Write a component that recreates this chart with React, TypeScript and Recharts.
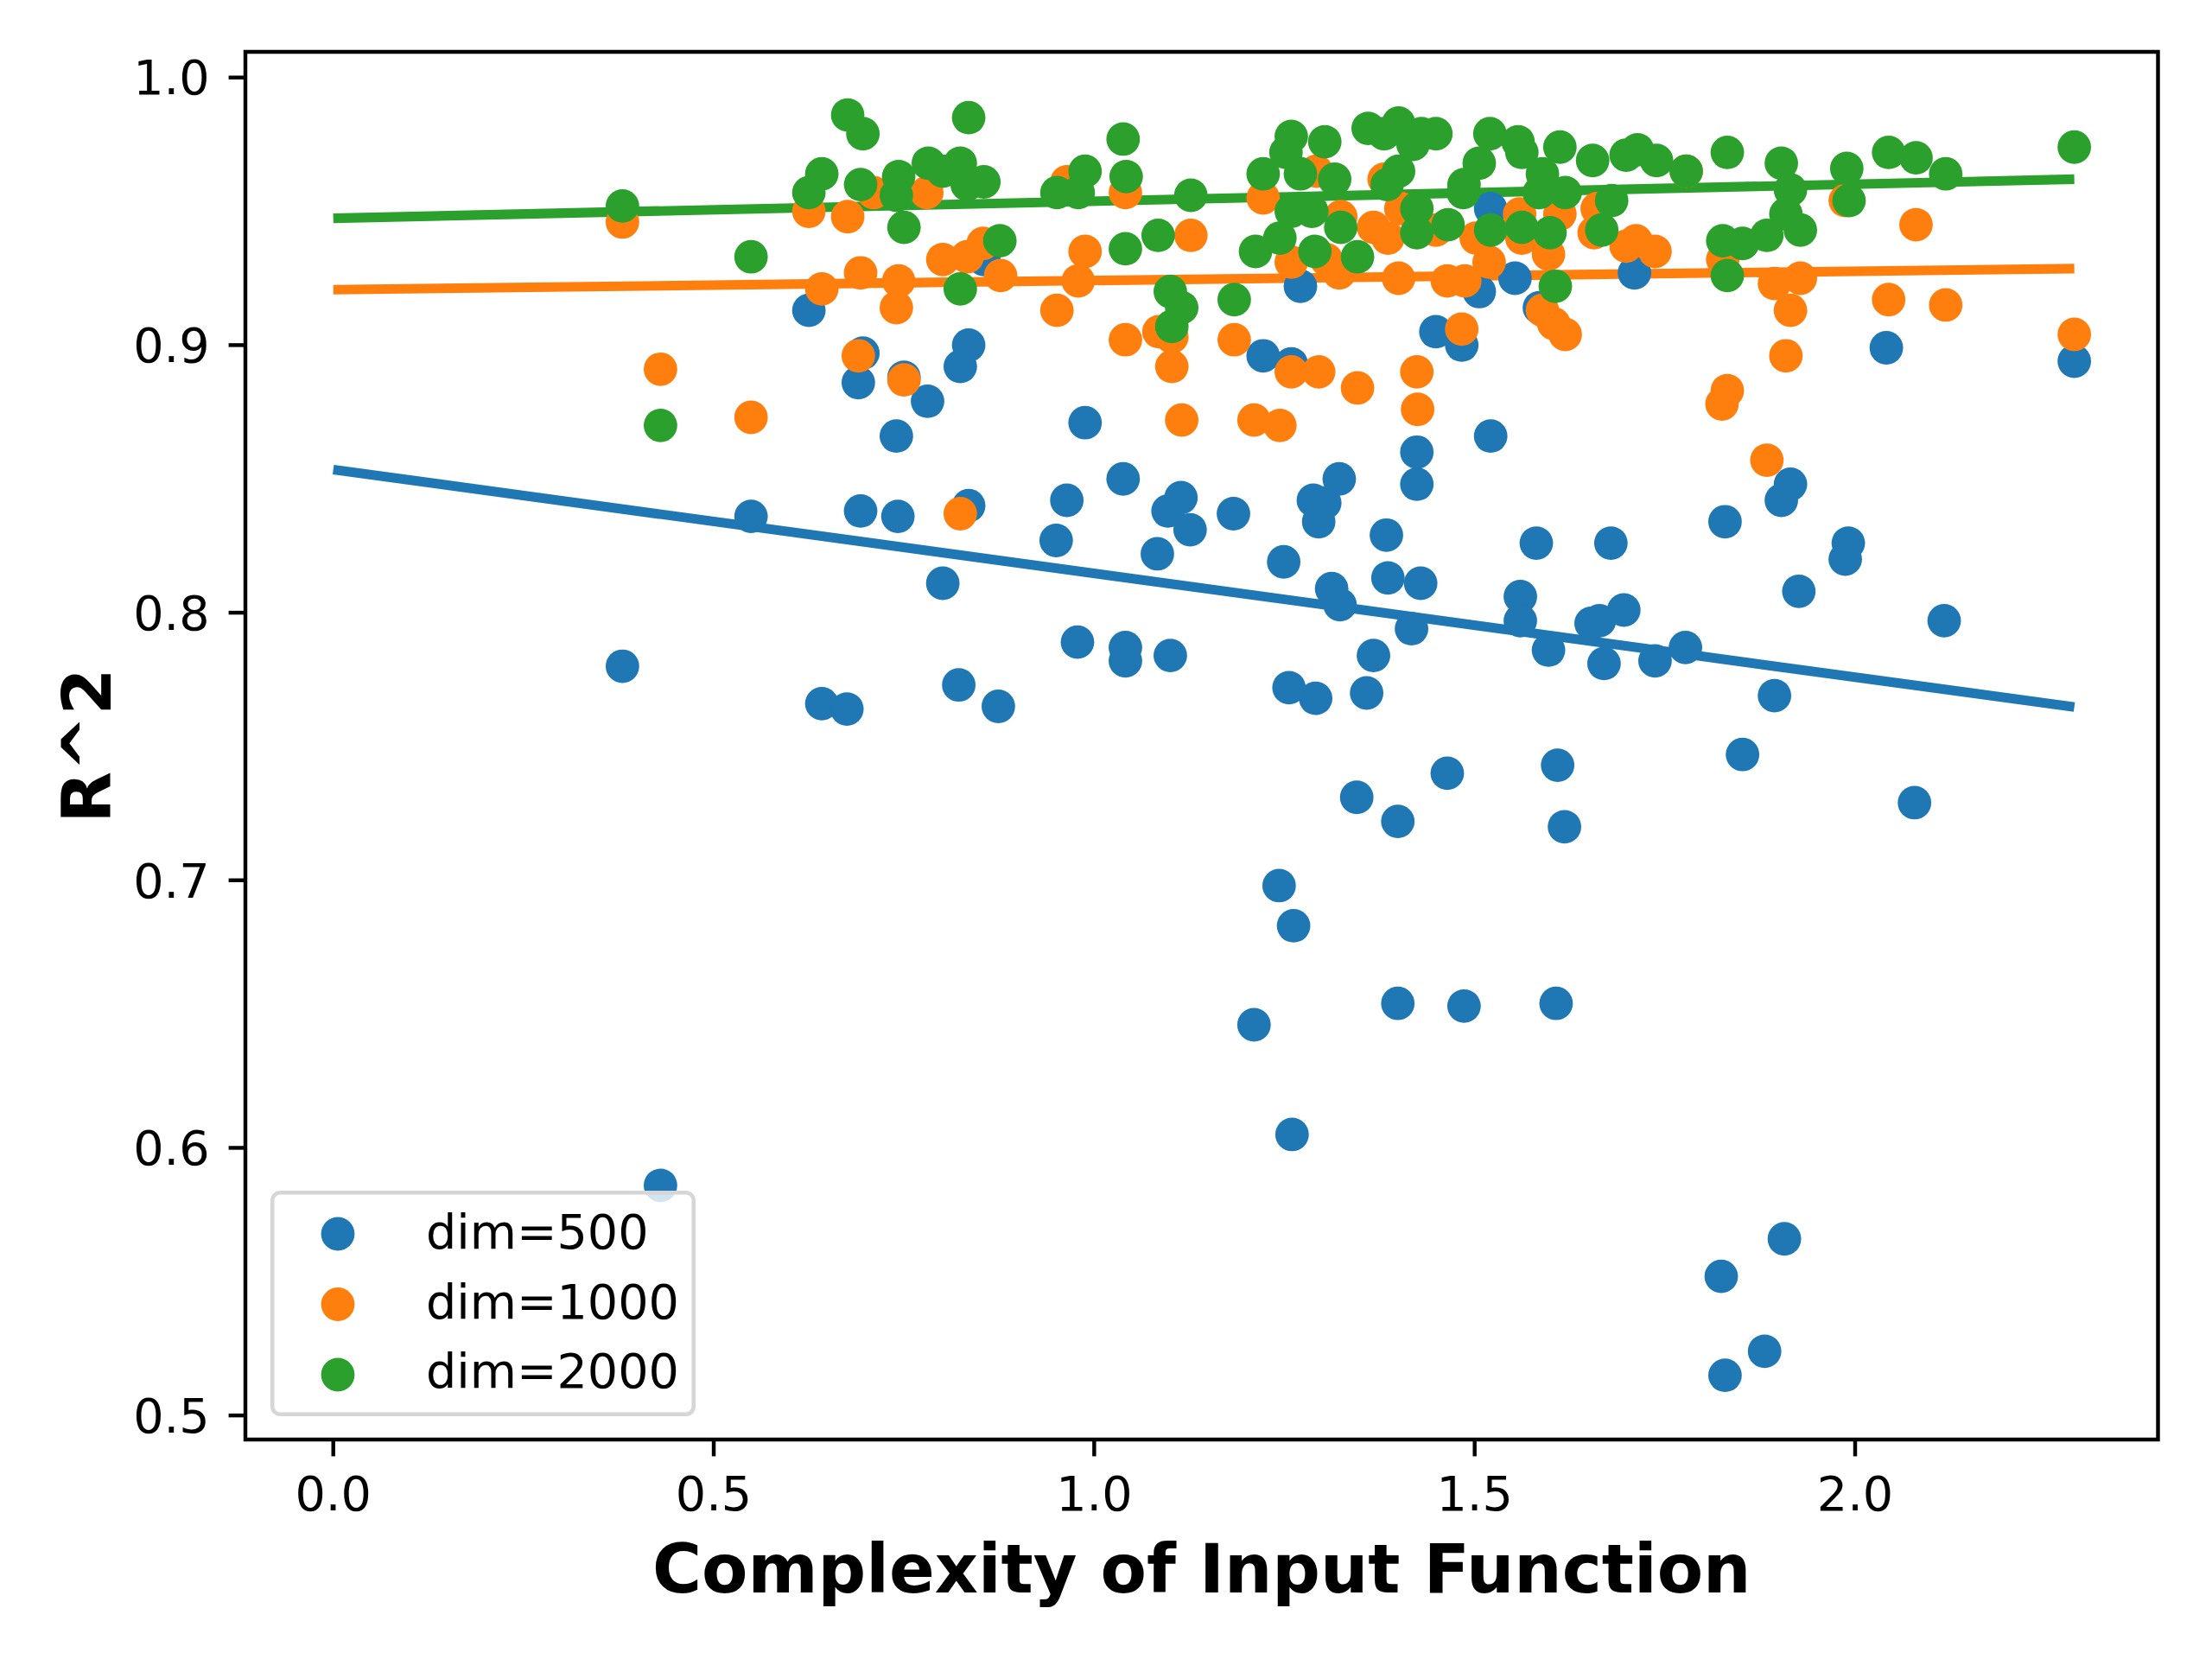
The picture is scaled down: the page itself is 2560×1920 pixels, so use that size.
import { ComposedChart, Scatter, Line, XAxis, YAxis, Legend, ReferenceArea, Label } from 'recharts';

type Pt = [number, number];

// complexity, R^2
const dim500: Pt[] = [
  [0.380, 0.780], [0.430, 0.586], [0.549, 0.836], [0.625, 0.913], [0.642, 0.766], [0.675, 0.764],
  [0.693, 0.838], [0.696, 0.897], [0.690, 0.886], [0.742, 0.836], [0.740, 0.866], [0.750, 0.888],
  [0.781, 0.879], [0.801, 0.811], [0.822, 0.773], [0.824, 0.892], [0.835, 0.900], [0.835, 0.840],
  [0.855, 0.932], [0.874, 0.765], [0.950, 0.827], [0.964, 0.842], [0.978, 0.789], [0.988, 0.871],
  [1.038, 0.850], [1.041, 0.787], [1.041, 0.782], [1.083, 0.822], [1.100, 0.784], [1.097, 0.838],
  [1.114, 0.843], [1.126, 0.831], [1.183, 0.837], [1.222, 0.896], [1.249, 0.819], [1.256, 0.772],
  [1.259, 0.893], [1.271, 0.922], [1.291, 0.768], [1.288, 0.842], [1.303, 0.841], [1.295, 0.834],
  [1.312, 0.809], [1.323, 0.803], [1.322, 0.850], [1.345, 0.731], [1.358, 0.770], [1.367, 0.784],
  [1.384, 0.829], [1.386, 0.813], [1.399, 0.722], [1.417, 0.794], [1.429, 0.811], [1.424, 0.860],
  [1.424, 0.848], [1.449, 0.905], [1.464, 0.740], [1.483, 0.900], [1.506, 0.920], [1.521, 0.951],
  [1.521, 0.866], [1.553, 0.925], [1.243, 0.698], [1.262, 0.683], [1.210, 0.646], [1.260, 0.605],
  [1.399, 0.654], [1.486, 0.653], [1.560, 0.806], [1.560, 0.797], [1.581, 0.826], [1.585, 0.914],
  [1.597, 0.786], [1.609, 0.743], [1.618, 0.720], [1.607, 0.654], [1.653, 0.796], [1.664, 0.797],
  [1.670, 0.781], [1.679, 0.826], [1.696, 0.801], [1.710, 0.927], [1.737, 0.782], [1.777, 0.787],
  [1.824, 0.552], [1.829, 0.515], [1.829, 0.834], [1.852, 0.747], [1.881, 0.524], [1.894, 0.769],
  [1.903, 0.842], [1.915, 0.848], [1.907, 0.566], [1.926, 0.808], [1.987, 0.820], [1.991, 0.826],
  [2.041, 0.899], [2.078, 0.729], [2.117, 0.797], [2.288, 0.894],
];

const dim1000: Pt[] = [
  [0.380, 0.946], [0.430, 0.891], [0.549, 0.873], [0.625, 0.950], [0.642, 0.921], [0.676, 0.948],
  [0.690, 0.896], [0.693, 0.927], [0.710, 0.957], [0.740, 0.914], [0.743, 0.924], [0.750, 0.887],
  [0.780, 0.957], [0.801, 0.932], [0.824, 0.837], [0.833, 0.933], [0.854, 0.938], [0.877, 0.926],
  [0.951, 0.913], [0.964, 0.961], [0.979, 0.924], [0.988, 0.935], [1.041, 0.957], [1.041, 0.902],
  [1.085, 0.905], [1.102, 0.903], [1.102, 0.892], [1.115, 0.872], [1.127, 0.941], [1.184, 0.902],
  [1.210, 0.872], [1.222, 0.955], [1.244, 0.870], [1.259, 0.931], [1.259, 0.890], [1.292, 0.965],
  [1.295, 0.890], [1.305, 0.932], [1.322, 0.927], [1.324, 0.948], [1.346, 0.884], [1.367, 0.944],
  [1.381, 0.962], [1.386, 0.940], [1.400, 0.925], [1.403, 0.951], [1.424, 0.890], [1.425, 0.876],
  [1.449, 0.943], [1.464, 0.924], [1.483, 0.906], [1.487, 0.924], [1.502, 0.940], [1.519, 0.931],
  [1.559, 0.949], [1.562, 0.940], [1.589, 0.913], [1.597, 0.934], [1.604, 0.908], [1.612, 0.949],
  [1.619, 0.904], [1.657, 0.942], [1.661, 0.951], [1.699, 0.937], [1.712, 0.939], [1.737, 0.935],
  [1.778, 0.965], [1.825, 0.878], [1.832, 0.883], [1.826, 0.932], [1.884, 0.857], [1.894, 0.923],
  [1.909, 0.896], [1.915, 0.913], [1.928, 0.925], [1.987, 0.954], [2.044, 0.917], [2.080, 0.945],
  [2.119, 0.915], [2.288, 0.904],
];

const dim2000: Pt[] = [
  [0.380, 0.952], [0.430, 0.870], [0.549, 0.933], [0.625, 0.957], [0.642, 0.964], [0.676, 0.986],
  [0.696, 0.979], [0.693, 0.960], [0.743, 0.963], [0.740, 0.956], [0.750, 0.944], [0.782, 0.968],
  [0.801, 0.965], [0.824, 0.968], [0.835, 0.985], [0.833, 0.960], [0.855, 0.961], [0.824, 0.921],
  [0.876, 0.939], [0.951, 0.957], [0.979, 0.957], [0.988, 0.965], [1.038, 0.977], [1.042, 0.963],
  [1.041, 0.936], [1.084, 0.941], [1.100, 0.920], [1.115, 0.914], [1.102, 0.907], [1.127, 0.956],
  [1.184, 0.917], [1.212, 0.935], [1.222, 0.964], [1.244, 0.940], [1.252, 0.972], [1.259, 0.978],
  [1.271, 0.964], [1.259, 0.950], [1.286, 0.950], [1.290, 0.935], [1.303, 0.976], [1.316, 0.962],
  [1.324, 0.944], [1.346, 0.933], [1.360, 0.981], [1.381, 0.979], [1.400, 0.983], [1.400, 0.965],
  [1.385, 0.960], [1.419, 0.975], [1.430, 0.979], [1.449, 0.979], [1.424, 0.951], [1.424, 0.942],
  [1.465, 0.945], [1.486, 0.960], [1.485, 0.957], [1.506, 0.968], [1.520, 0.979], [1.521, 0.943],
  [1.557, 0.976], [1.562, 0.972], [1.562, 0.944], [1.589, 0.964], [1.585, 0.957], [1.599, 0.942],
  [1.606, 0.922], [1.612, 0.974], [1.619, 0.957], [1.655, 0.969], [1.667, 0.943], [1.680, 0.954],
  [1.699, 0.971], [1.714, 0.973], [1.739, 0.969], [1.778, 0.965], [1.826, 0.939], [1.832, 0.972],
  [1.832, 0.926], [1.852, 0.938], [1.884, 0.941], [1.903, 0.968], [1.909, 0.949], [1.915, 0.958],
  [1.928, 0.943], [1.989, 0.966], [1.992, 0.954], [2.044, 0.972], [2.080, 0.970], [2.119, 0.964],
  [2.288, 0.974],
];

const seriesNames = ['dim=500', 'dim=1000', 'dim=2000'];
const seriesColors = ['#1f77b4', '#ff7f0e', '#2ca02c'];
// linear fits
const fitIntercepts = [0.8535, 0.9207, 0.9474];
const fitSlopes = [-0.0388, 0.00345, 0.00638];

const xTicks = [0, 0.5, 1.0, 1.5, 2.0];
const yTicks = [0.5, 0.6, 0.7, 0.8, 0.9, 1.0];
const xDomain: [number, number] = [-0.1155, 2.398];
const yDomain: [number, number] = [0.491, 1.0096];

const FONT = '"DejaVu Sans", sans-serif';
const W = 2560;
const H = 1920;
const PLOT_LEFT = 284;
const PLOT_TOP = 60;
const PLOT_RIGHT = 2497.5;
const PLOT_BOTTOM = 1666;
const X_AXIS_H = 120;

const groups = [dim500, dim1000, dim2000];
const scatterData = groups.map((g) => g.map(([x, y]) => ({ x, y })));
const xMax = Math.max(...groups.flat().map((p) => p[0]));
const fitData = fitIntercepts.map((b, i) => [0, xMax].map((x) => ({ x, y: b + fitSlopes[i] * x })));

const dot = (color: string) => (props: any) => <circle cx={props.cx} cy={props.cy} r={19.4} fill={color} />;

const XTitle = () => (
  <text
    x={(PLOT_LEFT + PLOT_RIGHT) / 2}
    y={1843}
    textAnchor="middle"
    fontFamily={FONT}
    fontWeight="bold"
    fontSize={77.8}
    fill="#000"
  >
    Complexity of Input Function
  </text>
);

const YTitle = () => {
  const cx = 128;
  const cy = (PLOT_TOP + PLOT_BOTTOM) / 2;
  return (
    <text
      x={cx}
      y={cy}
      transform={`rotate(-90 ${cx} ${cy})`}
      textAnchor="middle"
      fontFamily={FONT}
      fontWeight="bold"
      fontSize={77.8}
      fill="#000"
    >
      R^2
    </text>
  );
};

const LegendBox = () => (
  <svg width={492} height={261} style={{ display: 'block', overflow: 'visible' }}>
    <rect x={2.25} y={2.25} width={487.5} height={256.5} rx={9} fill="rgba(255,255,255,0.8)" stroke="#d6d6d6" strokeWidth={4.5} />
    {seriesNames.map((name, i) => (
      <g key={name}>
        <circle cx={78} cy={50 + 81.5 * i} r={19.4} fill={seriesColors[i]} />
        <text x={180} y={67 + 80.5 * i} fontFamily={FONT} fontSize={55.6} fill="#000">
          {name}
        </text>
      </g>
    ))}
  </svg>
);

const tickStyle = { fill: '#000', fontSize: 55.6, fontFamily: FONT };
const tickLineStyle = { stroke: '#000', strokeWidth: 4.44 };

export default function App() {
  return (
    <div style={{ position: 'absolute', left: 0, top: 0, width: W, height: H, background: '#fff' }}>
      <ComposedChart
        width={W}
        height={H}
        margin={{ top: PLOT_TOP, right: W - PLOT_RIGHT, bottom: H - PLOT_BOTTOM - X_AXIS_H, left: 0 }}
      >
        <XAxis
          dataKey="x"
          type="number"
          domain={xDomain}
          ticks={xTicks}
          interval={0}
          tickFormatter={(v: number) => v.toFixed(1)}
          height={X_AXIS_H}
          axisLine={false}
          tickSize={19.4}
          tickMargin={23}
          tick={tickStyle}
          tickLine={tickLineStyle}
        >
          <Label content={XTitle} />
        </XAxis>
        <YAxis
          dataKey="y"
          type="number"
          domain={yDomain}
          ticks={yTicks}
          interval={0}
          tickFormatter={(v: number) => v.toFixed(1)}
          width={PLOT_LEFT}
          axisLine={false}
          tickSize={19.4}
          tickMargin={22}
          tick={tickStyle}
          tickLine={tickLineStyle}
        >
          <Label content={YTitle} />
        </YAxis>
        {scatterData.map((d, i) => (
          <Scatter
            key={seriesNames[i]}
            name={seriesNames[i]}
            data={d}
            fill={seriesColors[i]}
            shape={dot(seriesColors[i])}
            isAnimationActive={false}
          />
        ))}
        {fitData.map((d, i) => (
          <Line
            key={`fit-${i}`}
            data={d}
            dataKey="y"
            type="linear"
            stroke={seriesColors[i]}
            strokeWidth={11.1}
            dot={false}
            activeDot={false}
            legendType="none"
            isAnimationActive={false}
          />
        ))}
        <ReferenceArea
          x1={xDomain[0]}
          x2={xDomain[1]}
          y1={yDomain[0]}
          y2={yDomain[1]}
          fill="none"
          stroke="#000"
          strokeWidth={4.44}
          ifOverflow="visible"
        />
        <Legend
          layout="horizontal"
          verticalAlign="middle"
          align="center"
          wrapperStyle={{ position: 'absolute', left: 313, top: 1378, width: 492, height: 261 }}
          content={() => <LegendBox />}
        />
      </ComposedChart>
    </div>
  );
}
